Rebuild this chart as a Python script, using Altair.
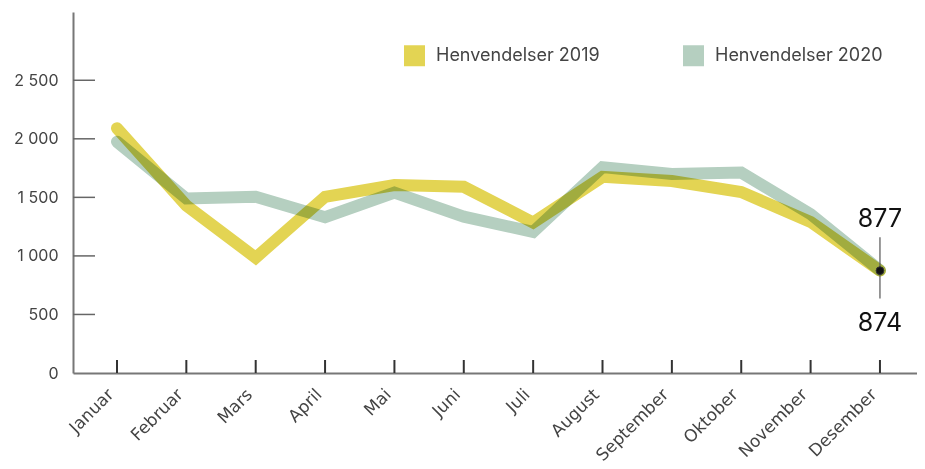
import altair as alt
import pandas as pd

months = ["Januar", "Februar", "Mars", "April", "Mai", "Juni", "Juli",
          "August", "September", "Oktober", "November", "Desember"]
h2019 = [2090, 1430, 985, 1505, 1605, 1590, 1285, 1675, 1640, 1545, 1290, 874]
h2020 = [1975, 1490, 1505, 1330, 1540, 1335, 1205, 1758, 1700, 1712, 1357, 877]
series = ["Henvendelser 2019", "Henvendelser 2020"]
colors = ["#E3D453", "#B5CFC0"]
y_ticks = [0, 500, 1000, 1500, 2000, 2500]

W, H = 844, 361

rows = []
for name, vals in zip(series, [h2019, h2020]):
    for i, (m, v) in enumerate(zip(months, vals)):
        rows.append({"series": name, "idx": i, "month": m, "value": v})
df = pd.DataFrame(rows)

xscale = alt.Scale(domain=[-0.634, 11.534], nice=False, zero=False)
yscale = alt.Scale(domain=[0, 3083], nice=False, zero=False)

label_expr = "[" + ",".join("'%s'" % m for m in months) + "][datum.value]"

x_axis = alt.Axis(values=list(range(12)), labelExpr=label_expr, labelAngle=315,
                  labelAlign="right", labelBaseline="bottom", labelOverlap=False,
                  labelFont="DejaVu Sans", labelFontSize=17, labelColor="#444",
                  labelPadding=25, ticks=False, grid=False, domainColor="#777",
                  domainWidth=2, title=None)
y_axis = alt.Axis(values=y_ticks, labelExpr="replace(format(datum.value, ','), ',', ' ')",
                  labelFont="Inter", labelFontSize=16, labelColor="#444",
                  labelPadding=15, ticks=False, grid=False, domainColor="#777",
                  domainWidth=2, title=None)

base = alt.Chart(df)

lines = base.mark_line(strokeWidth=12, strokeCap="round", strokeJoin="miter",
                       blend="multiply").encode(
    x=alt.X("idx:Q", scale=xscale, axis=x_axis),
    y=alt.Y("value:Q", scale=yscale, axis=y_axis),
    color=alt.Color("series:N", scale=alt.Scale(domain=series, range=colors),
                    legend=alt.Legend(title=None, orient="none", legendX=331, legendY=33,
                                      direction="horizontal", symbolType="square",
                                      symbolSize=100, symbolStrokeWidth=11,
                                      labelFont="Inter", labelFontSize=18,
                                      labelColor="#444", labelOffset=11, labelLimit=400,
                                      columnPadding=66, padding=0)),
    detail="series:N",
)

ytick_df = pd.DataFrame({"v": y_ticks[1:]})
yticks = alt.Chart(ytick_df).mark_rule(color="#666", strokeWidth=1.5).encode(
    y=alt.Y("v:Q", scale=yscale), x=alt.value(0), x2=alt.value(22))

xtick_df = pd.DataFrame({"idx": list(range(12))})
xticks = alt.Chart(xtick_df).mark_rule(color="#333", strokeWidth=2).encode(
    x=alt.X("idx:Q", scale=xscale), y=alt.value(H), y2=alt.value(H - 13))

end_df = pd.DataFrame({"idx": [11], "value": [h2019[-1]], "top": [1159], "bottom": [637],
                       "t19": [str(h2019[-1])], "t20": [str(h2020[-1])]})
end = alt.Chart(end_df)
ann_rule = end.mark_rule(color="#555", strokeWidth=1.2).encode(
    x=alt.X("idx:Q", scale=xscale), y=alt.Y("top:Q", scale=yscale), y2="bottom:Q")
dot = end.mark_point(filled=True, color="#111", size=60, opacity=1,
                     stroke="#333", strokeWidth=1).encode(
    x=alt.X("idx:Q", scale=xscale), y=alt.Y("value:Q", scale=yscale))
txt_top = end.mark_text(font="Inter", fontSize=25, color="#111", dy=-52).encode(
    x=alt.X("idx:Q", scale=xscale), y=alt.Y("value:Q", scale=yscale), text="t20:N")
txt_bot = end.mark_text(font="Inter", fontSize=25, color="#111", dy=52).encode(
    x=alt.X("idx:Q", scale=xscale), y=alt.Y("value:Q", scale=yscale), text="t19:N")

chart = alt.layer(yticks, xticks, lines, ann_rule, dot, txt_top, txt_bot).properties(
    width=W, height=H,
    autosize=alt.AutoSizeParams(type="none"),
    padding={"left": 65, "top": 4, "right": 0, "bottom": 96},
).configure_view(stroke=None)

chart.save("out.html", embed_options={"renderer": "svg", "actions": False})
